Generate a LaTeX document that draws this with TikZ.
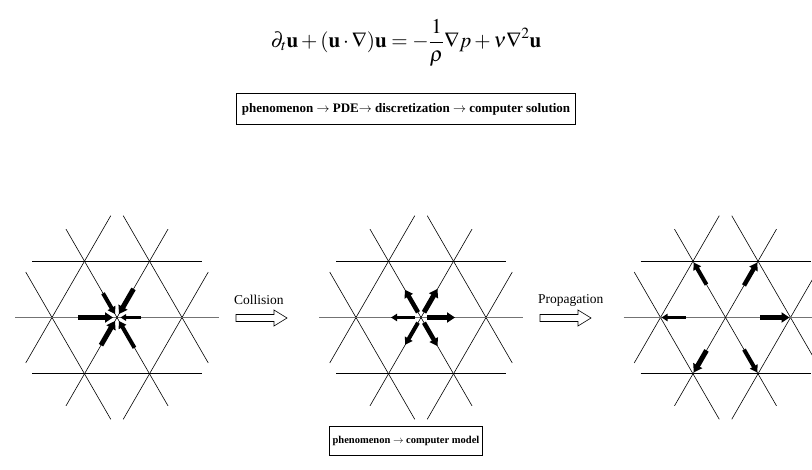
\documentclass[tikz,border=0pt]{standalone}
\usepackage{mathptmx}
\usepackage{fontspec}
\setmainfont{Liberation Serif}
\usetikzlibrary{arrows.meta,calc}
\newcommand\hexlat[1]{%
  \foreach \t in {0,60,120}{
    \draw[lat] ($(#1)+(\t+90:56.3)+(\t:-85)$) -- ($(#1)+(\t+90:56.3)+(\t:85)$);
    \draw[lat] ($(#1)+(\t-90:56.3)+(\t:-85)$) -- ($(#1)+(\t-90:56.3)+(\t:85)$);
  }
  \draw[latg] ($(#1)+(0:-102)$) -- ($(#1)+(0:102)$);
  \draw[lat] ($(#1)+(60:-102)$) -- ($(#1)+(60:102)$);
  \draw[lat] ($(#1)+(120:-102)$) -- ($(#1)+(120:102)$);
}
\newcommand\parrow[5]{% center, angle, r1, r2, width
  \draw[parr=#5] ($(#1)+(#2:#3)$) -- ($(#1)+(#2:#4)$);
}
\begin{document}
\begin{tikzpicture}[x=1pt,y=-1pt,
  lat/.style={line width=0.6pt,black},
  latg/.style={line width=0.6pt,black!55},
  parr/.style={line width=#1,-{Triangle[length=3pt 1,width=3pt 1.4]}},
  hollow/.style={draw,line width=0.6pt,fill=white},
  lbl/.style={font=\fontsize{13.5}{16}\selectfont,inner sep=0pt},
  boxt/.style={draw,line width=0.8pt,font=\fontsize{13}{16}\selectfont\bfseries,inner xsep=5pt,inner ysep=10pt}]
\useasboundingbox (0,0) rectangle (812,470);
\clip (0,0) rectangle (812,470);
\node (eq) at (406,43) {\fontsize{21}{25}\selectfont$\displaystyle \partial_t\mathbf{u}+(\mathbf{u}\cdot\nabla)\mathbf{u}=-\frac{1}{\rho}\nabla p+\nu\nabla^2\mathbf{u}$};
\node[boxt] (box1) at (406,109) {phenomenon $\rightarrow$ PDE$\rightarrow$ discretization $\rightarrow$ computer solution};
\node[boxt,font=\fontsize{10.5}{13}\selectfont\bfseries,inner xsep=3pt,inner ysep=10pt] (box2) at (406,441) {phenomenon $\rightarrow$ computer model};
\coordinate (c1) at (117,317.5);
\coordinate (c2) at (421,317.5);
\coordinate (c3) at (725.5,317.5);
\hexlat{c1}
\hexlat{c2}
\hexlat{c3}
% lattice 1: incoming
\parrow{c1}{180}{39}{4}{5pt}
\parrow{c1}{0}{24}{3.5}{2.5pt}
\parrow{c1}{240}{28}{4}{4pt}
\parrow{c1}{300}{33}{4}{5pt}
\parrow{c1}{120}{32}{4}{5pt}
\parrow{c1}{60}{35}{4}{4pt}
% lattice 2: after collision
\parrow{c2}{180}{6}{30}{3pt}
\parrow{c2}{0}{6}{34}{5pt}
\parrow{c2}{240}{6}{32}{4.5pt}
\parrow{c2}{300}{6}{33}{5pt}
\parrow{c2}{120}{6}{31.5}{4pt}
\parrow{c2}{60}{6}{33}{4.5pt}
% lattice 3: after propagation
\parrow{c3}{180}{40}{64}{3pt}
\parrow{c3}{0}{34.5}{64}{5pt}
\parrow{c3}{240}{38}{63.5}{4pt}
\parrow{c3}{300}{37}{63.5}{4.5pt}
\parrow{c3}{120}{38}{63.5}{5pt}
\parrow{c3}{60}{37}{63.5}{4pt}
% hollow arrows and labels
\node[lbl,anchor=west] (col) at (234,300) {Collision};
\draw[hollow] (236,314.5) -- (274,314.5) -- (274,310) -- (287,318) -- (274,326) -- (274,321.5) -- (236,321.5) -- cycle;
\node[lbl,anchor=west] (prop) at (538,300) {Propagation};
\draw[hollow] (540,314.5) -- (578,314.5) -- (578,310) -- (591,318) -- (578,326) -- (578,321.5) -- (540,321.5) -- cycle;
\end{tikzpicture}
\end{document}
